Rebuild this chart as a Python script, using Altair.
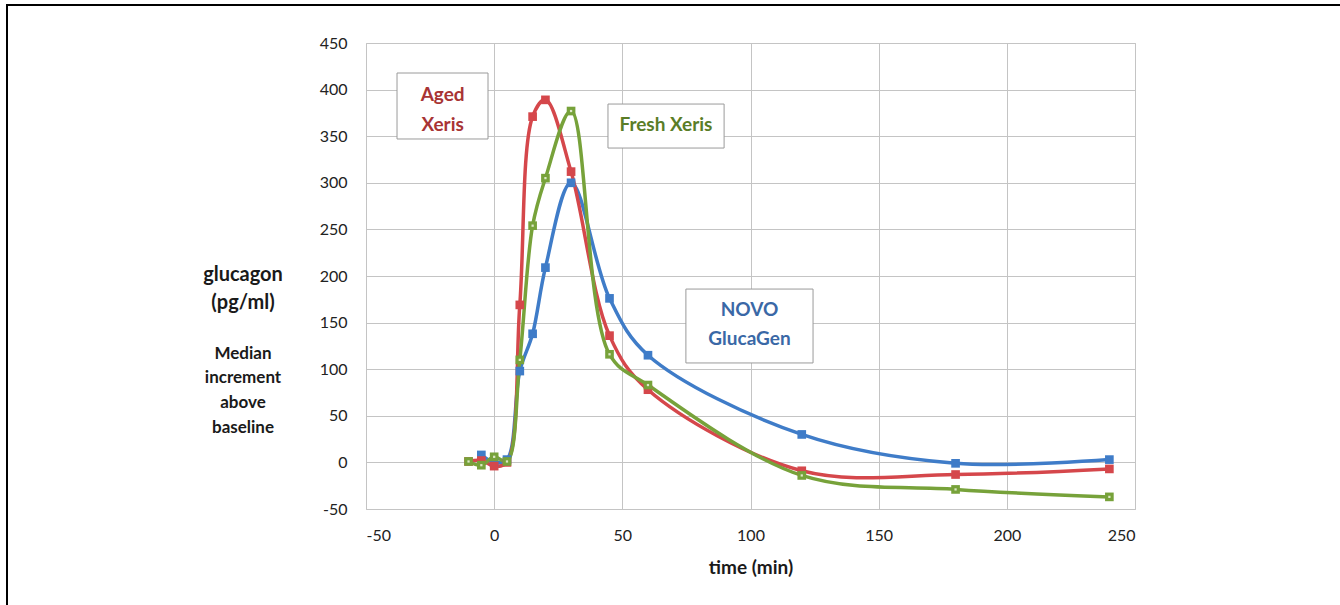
import altair as alt
import pandas as pd

times = [-10, -5, 0, 5, 10, 15, 20, 30, 45, 60, 120, 180, 240]
novo = [None, 8, 0, 3, 98, 138, 209, 300, 176, 115, 30, -1, 3]
aged = [1, 2, -4, 0, 169, 371, 389, 312, 136, 78, -9, -13, -7]
fresh = [1, -3, 6, 1, 110, 254, 305, 377, 116, 83, -14, -29, -37]

series_names = ["NOVO GlucaGen", "Aged Xeris", "Fresh Xeris"]
series_colors = ["#3F7CC8", "#D5474B", "#77A23A"]

rows = []
for name, vals in zip(series_names, [novo, aged, fresh]):
    for t, v in zip(times, vals):
        if v is not None:
            rows.append({"series": name, "time": t, "value": v})
df = pd.DataFrame(rows)

# annotation boxes (data coordinates)
box_x = [-37.9, 44.4, 74.8]
box_x2 = [-2.4, 89.7, 124.4]
box_y = [347, 337.3, 106.7]
box_y2 = [417.8, 384.5, 186]
boxes = pd.DataFrame({"x": box_x, "x2": box_x2, "y": box_y, "y2": box_y2})

label_text = ["Aged", "Xeris", "Fresh Xeris", "NOVO", "GlucaGen"]
label_x = [-20.1, -20.1, 67.0, 99.6, 99.6]
label_y = [394, 362, 362, 163, 132.5]
label_color = ["#A83434", "#A83434", "#5A7D27", "#3A68A6", "#3A68A6"]
labels = pd.DataFrame({"text": label_text, "x": label_x, "y": label_y, "c": label_color})

FONT = "Lato"

xs = alt.Scale(domain=[-50, 250], nice=False)
ys = alt.Scale(domain=[-50, 450], nice=False)
cs = alt.Scale(domain=series_names, range=series_colors)

base = alt.Chart(df)

lines = base.mark_line(interpolate="catmull-rom", strokeWidth=3.5).encode(
    x=alt.X("time:Q", scale=xs,
            axis=alt.Axis(values=[-50, 0, 50, 100, 150, 200, 250], title="time (min)",
                          labelExpr="toString(datum.value)",
                          titleFont=FONT, titleFontSize=19, titleFontWeight="bold",
                          titleColor="#1a1a1a", titleY=58, titleBaseline="middle",
                          labelFont=FONT, labelFontSize=16, labelColor="#222",
                          labelPadding=18, ticks=False, domain=False,
                          gridColor="#C4C4C4", gridWidth=1)),
    y=alt.Y("value:Q", scale=ys,
            axis=alt.Axis(values=list(range(-50, 451, 50)), title=None,
                          labelExpr="toString(datum.value)",
                          labelFont=FONT, labelFontSize=16, labelColor="#222",
                          labelPadding=19, ticks=False, domain=False,
                          gridColor="#C4C4C4", gridWidth=1)),
    color=alt.Color("series:N", scale=cs, legend=None),
    detail="series:N",
)

pts = base.mark_point(shape="square", filled=True, size=75, opacity=1).encode(
    x=alt.X("time:Q", scale=xs),
    y=alt.Y("value:Q", scale=ys),
    color=alt.Color("series:N", scale=cs, legend=None),
)

dots = alt.Chart(df[df["series"] == "Fresh Xeris"]).mark_point(
    shape="square", filled=True, size=5, color="#DDE8C8", opacity=1
).encode(x=alt.X("time:Q", scale=xs), y=alt.Y("value:Q", scale=ys))

rects = alt.Chart(boxes).mark_rect(fill="white", stroke="#9A9A9A", strokeWidth=1).encode(
    x=alt.X("x:Q", scale=xs), x2="x2:Q", y=alt.Y("y:Q", scale=ys), y2="y2:Q"
)

texts = alt.Chart(labels).mark_text(font=FONT, fontSize=19, fontWeight="bold",
                                    align="center", baseline="middle").encode(
    x=alt.X("x:Q", scale=xs), y=alt.Y("y:Q", scale=ys),
    text="text:N", color=alt.Color("c:N", scale=None),
)

ytitle_text = ["glucagon", "(pg/ml)", "Median", "increment", "above", "baseline"]
ytitle_y = [232, 260, 311, 335, 360, 385]
ytitle_size = [20, 20, 17, 17, 17, 17]
ylayers = []
for t, py, fs in zip(ytitle_text, ytitle_y, ytitle_size):
    ylayers.append(
        alt.Chart(pd.DataFrame({"t": [t]})).mark_text(
            font=FONT, fontSize=fs, fontWeight="bold", color="#1a1a1a",
            align="center", baseline="middle"
        ).encode(x=alt.value(-123), y=alt.value(py), text="t:N")
    )

one = pd.DataFrame({"a": [0]})
frame_top = alt.Chart(one).mark_rule(color="black", strokeWidth=2).encode(
    x=alt.value(-359), x2=alt.value(980), y=alt.value(-38))
frame_left = alt.Chart(one).mark_rule(color="black", strokeWidth=2).encode(
    x=alt.value(-359), y=alt.value(-39), y2=alt.value(570))

chart = alt.layer(
    lines, pts, dots, rects, texts, *ylayers, frame_top, frame_left
).properties(
    width=769, height=466,
    autosize=alt.AutoSizeParams(type="none"),
    padding={"left": 366, "top": 43, "right": 205, "bottom": 96},
    background="white",
).configure_view(stroke="#C4C4C4", strokeWidth=1)

chart.save("out.html", embed_options={"renderer": "svg", "actions": False})
